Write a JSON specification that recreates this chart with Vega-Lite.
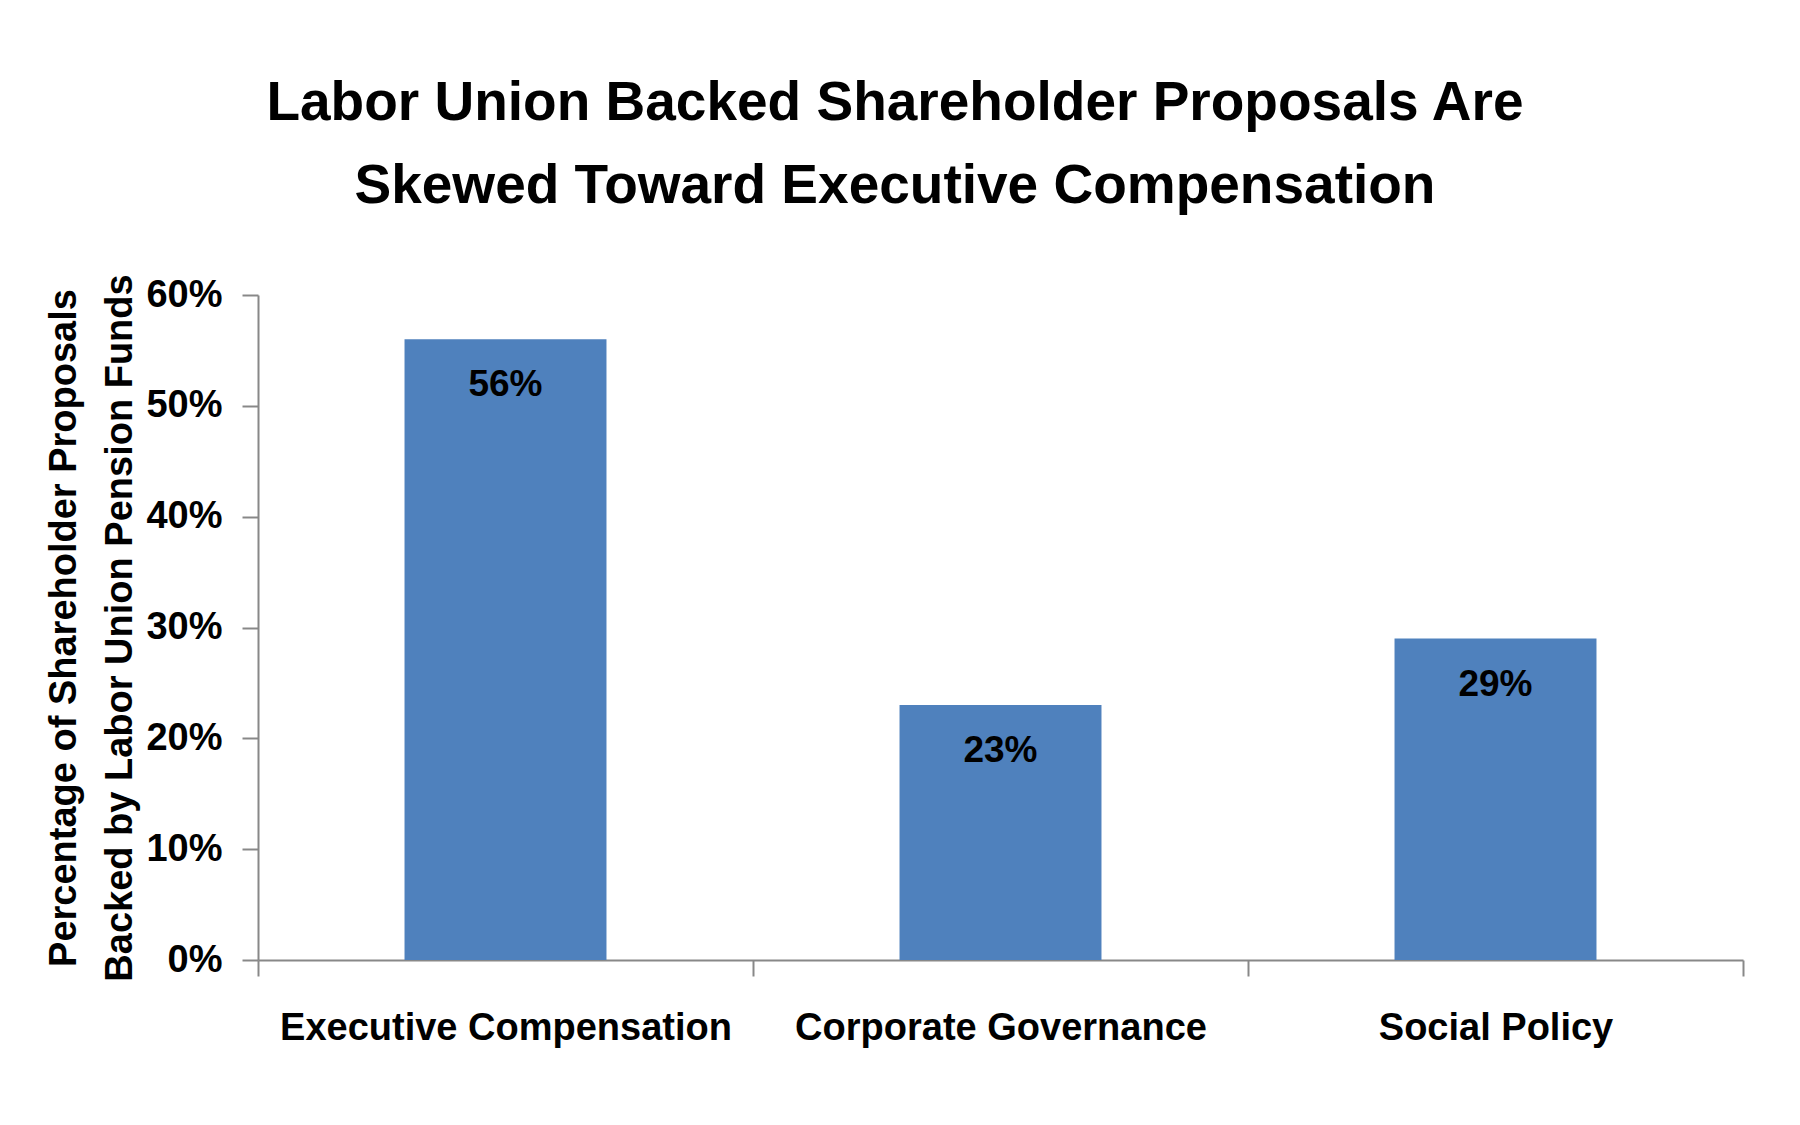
{
  "$schema": "https://vega.github.io/schema/vega-lite/v6.json",
  "description": "Labor union backed shareholder proposals by category",
  "background": "white",
  "autosize": {"type": "none"},
  "padding": {"left": 258, "top": 295, "right": 57, "bottom": 165},
  "width": 1485,
  "height": 665,
  "title": {
    "text": ["Labor Union Backed Shareholder Proposals Are", "Skewed Toward Executive Compensation"],
    "font": "Liberation Sans",
    "fontWeight": "bold",
    "fontSize": 55,
    "lineHeight": 83,
    "color": "black",
    "anchor": "middle",
    "frame": "bounds",
    "offset": 59
  },
  "data": {
    "values": [
      {"category": "Executive Compensation", "share": 0.56},
      {"category": "Corporate Governance", "share": 0.23},
      {"category": "Social Policy", "share": 0.29}
    ]
  },
  "encoding": {
    "x": {
      "field": "category",
      "type": "nominal",
      "sort": null,
      "scale": {"paddingInner": 0, "paddingOuter": 0},
      "axis": {
        "title": null,
        "labelAngle": 0,
        "labelFont": "Liberation Sans",
        "labelFontWeight": "bold",
        "labelFontSize": 38,
        "labelColor": "black",
        "labelLimit": 0,
        "labelPadding": 33,
        "tickBand": "extent",
        "tickSize": 16,
        "tickColor": "#888888",
        "tickWidth": 2,
        "domainColor": "#888888",
        "domainWidth": 2
      }
    },
    "y": {
      "field": "share",
      "type": "quantitative",
      "scale": {"domain": [0, 0.6]},
      "axis": {
        "title": ["Percentage of Shareholder Proposals", "Backed by Labor Union Pension Funds"],
        "titleFont": "Liberation Sans",
        "titleFontWeight": "bold",
        "titleFontSize": 38,
        "titleLineHeight": 56,
        "titleColor": "black",
        "titlePadding": 6,
        "values": [0, 0.1, 0.2, 0.3, 0.4, 0.5, 0.6],
        "format": ".0%",
        "grid": false,
        "labelFont": "Liberation Sans",
        "labelFontWeight": "bold",
        "labelFontSize": 38,
        "labelColor": "black",
        "labelPadding": 20,
        "tickSize": 16,
        "tickColor": "#888888",
        "tickWidth": 2,
        "domainColor": "#888888",
        "domainWidth": 2
      }
    }
  },
  "layer": [
    {"mark": {"type": "bar", "color": "#4F81BD", "width": {"band": 0.408}}},
    {
      "mark": {
        "type": "text",
        "baseline": "middle",
        "dy": 46,
        "font": "Liberation Sans",
        "fontWeight": "bold",
        "fontSize": 37,
        "color": "black"
      },
      "encoding": {"text": {"field": "share", "format": ".0%"}}
    }
  ],
  "config": {"view": {"stroke": null}}
}
